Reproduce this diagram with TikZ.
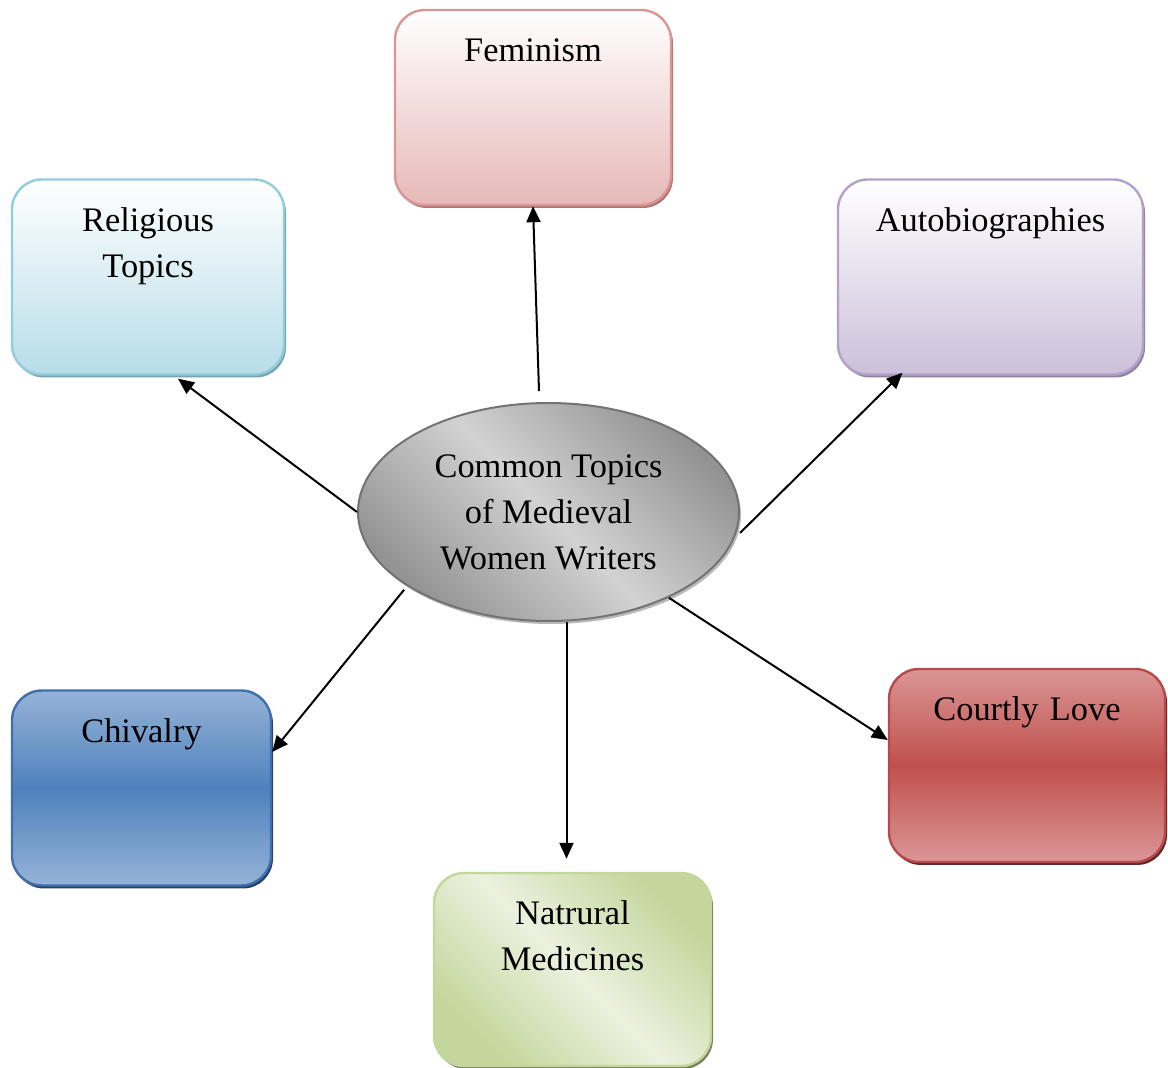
\documentclass[tikz,border=0pt]{standalone}
\usepackage{fontspec}
\setmainfont{Liberation Serif}
\usetikzlibrary{arrows.meta,shapes.geometric,shadows}
\definecolor{femline}{HTML}{D99694}
\definecolor{femfill}{HTML}{E6B9B8}
\definecolor{relline}{HTML}{92CDDC}
\definecolor{relfill}{HTML}{B7DDE8}
\definecolor{autoline}{HTML}{B3A2C7}
\definecolor{autofill}{HTML}{CCC0DA}
\definecolor{chivline}{HTML}{3F6FAE}
\definecolor{chivlight}{HTML}{95B3D7}
\definecolor{chivdark}{HTML}{4F81BD}
\definecolor{courtline}{HTML}{B9484A}
\definecolor{courtlight}{HTML}{DA9695}
\definecolor{courtdark}{HTML}{C0504D}
\definecolor{natline}{HTML}{C3D69B}
\definecolor{natgreen}{HTML}{C3D69B}
\definecolor{natlight}{HTML}{EBF1DE}

\begin{document}
\begin{tikzpicture}[x=0.5pt,y=-0.5pt,
  topic/.style={rounded corners=15pt, line width=1.2pt, align=center,
    inner sep=0pt, text height=26pt, text depth=71.5pt,
    font=\fontsize{17.2}{23}\selectfont},
  shade/.style={drop shadow={shadow xshift=1pt,shadow yshift=-1.5pt,
    fill=#1,opacity=1}},
  link/.style={-{Triangle[length=8pt,width=7pt]}, line width=1pt}]
\useasboundingbox (0,0) rectangle (1168,1068);
\coordinate (Hub) at (548.5,512);
\coordinate (FemPos) at (533,107.5);
\coordinate (RelPos) at (148,277);
\coordinate (AutoPos) at (990.5,277);
\coordinate (ChivPos) at (141.5,788);
\coordinate (CourtPos) at (1027,765.5);
\coordinate (NatPos) at (572.5,969.5);
% the centre
\node[ellipse, draw=gray!90!black, line width=1pt, minimum width=190.5pt,
  minimum height=109pt, inner sep=0pt, align=center,
  font=\fontsize{17.2}{23}\selectfont,
  top color=gray!85, bottom color=gray!85, middle color=gray!35,
  shading angle=-45, shade=gray!55] (Centre) at (Hub)
  {Common Topics\\of Medieval\\Women Writers};
% the topics
\node[topic, text width=138pt, draw=femline, top color=white,
  bottom color=femfill, shade=femline!80!black] (Feminism) at (FemPos) {Feminism};
\node[topic, text width=136pt, draw=relline, top color=white,
  bottom color=relfill, shade=relline!80!black] (Religious) at (RelPos) {Religious\\Topics};
\node[topic, text width=152.5pt, draw=autoline, top color=white,
  bottom color=autofill, shade=autoline!80!black] (Autobio) at (AutoPos) {Autobiographies};
\node[topic, text width=129.5pt, draw=chivline, top color=chivlight,
  bottom color=chivlight, middle color=chivdark, shade=chivdark!50!black] (Chivalry) at (ChivPos) {Chivalry};
\node[topic, text width=138pt, text depth=70.5pt, draw=courtline, top color=courtlight,
  bottom color=courtlight, middle color=courtdark, shade=courtdark!50!black] (Courtly) at (CourtPos) {Courtly Love};
\node[topic, text width=138.5pt, text depth=70.5pt, draw=natline, top color=natgreen,
  bottom color=natgreen, middle color=natlight, shading angle=-45,
  shade=natline!60!black] (Natural) at (NatPos) {Natrural\\Medicines};
% the links
\draw[link] ([xshift=-4.75pt,yshift=5.5pt]Centre.north) -- (Feminism.south);
\draw[link] (Centre.west) -- ([xshift=15pt,yshift=-1.5pt]Religious.south);
\draw[link] ([yshift=-10.5pt]Centre.east) -- ([xshift=-44pt,yshift=1.5pt]Autobio.south);
\draw[link] ([xshift=-4.5pt]Centre.south west) -- ([yshift=18pt]Chivalry.east);
\draw[link] ([xshift=9pt]Centre.south) -- ([xshift=-3pt,yshift=6.5pt]Natural.north);
\draw[link] ([xshift=-7.5pt,yshift=-4pt]Centre.south east) -- ([yshift=12.75pt]Courtly.west);
\end{tikzpicture}
\end{document}
